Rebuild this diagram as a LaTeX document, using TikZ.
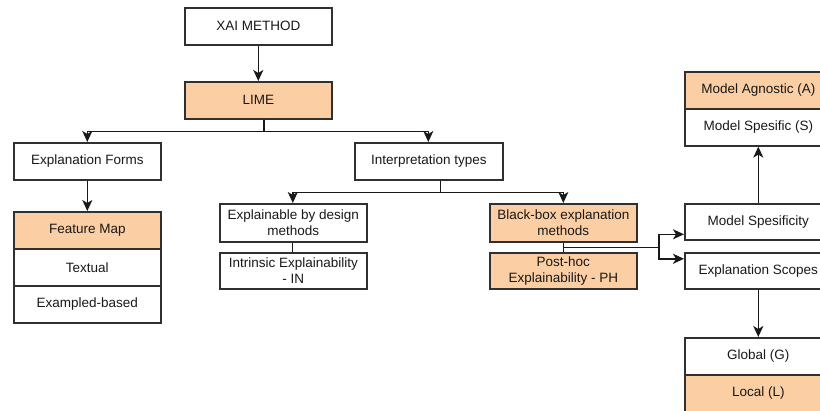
\documentclass[tikz,border=0pt]{standalone}
\usepackage{fontspec}
\setmainfont{Liberation Sans}
\usetikzlibrary{arrows.meta,calc}
\definecolor{peach}{RGB}{251,206,163}
\definecolor{ink}{RGB}{25,25,25}
\tikzset{
  box/.style={draw=ink!90, line width=1.6pt, minimum width=147pt, minimum height=37pt,
    inner sep=0pt, anchor=north west, align=center, font=\fontsize{13.5}{15.5}\selectfont, text=ink},
  hot/.style={box, fill=peach},
  link/.style={draw=ink, line width=1.6pt},
  arr/.style={link, -{Stealth[length=11pt,width=10pt,inset=3pt]}},
}
\begin{document}
\begin{tikzpicture}[x=1pt,y=-1pt]
\useasboundingbox (0,0) rectangle (820,410);
\clip (0,0) rectangle (820,410);
\fill[white] (0,0) rectangle (820,410);

% top of the tree
\node[box] (xai) at (184,7) {XAI METHOD};
\node[hot] (lime) at (184,81) {LIME};

% first level
\node[box] (ef) at (13,142) {Explanation Forms};
\node[box, minimum width=148pt] (it) at (354,142) {Interpretation types};

% explanation forms stack
\node[hot] (fm) at (13,211) {Feature Map};
\node[box] (tx) at (13,248) {Textual};
\node[box] (ex) at (13,285) {Exampled-based};

% interpretation types
\node[box, minimum height=38pt] (ebd) at (219,203) {Explainable by design\\methods};
\node[box, minimum height=36pt] (intr) at (219,252) {Intrinsic Explainability\\- IN};
\node[hot, minimum height=38pt] (bb) at (489,203) {Black-box explanation\\methods};
\node[hot, minimum height=36pt] (ph) at (489,252) {Post-hoc\\Explainability - PH};

% right-hand column
\node[hot] (ma) at (684,71) {Model Agnostic (A)};
\node[box] (msp) at (684,108) {Model Spesific (S)};
\node[box, minimum height=36pt] (ms) at (684,203) {Model Spesificity};
\node[box, minimum height=36pt] (es) at (684,252) {Explanation Scopes};
\node[box] (gl) at (684,337) {Global (G)};
\node[hot] (lo) at (684,374) {Local (L)};

% connectors
\draw[arr] (xai) -- (lime);
\coordinate (limeout) at ([xshift=5.5pt]lime.south);
\draw[arr] (limeout) -- ++(0,12) -| (ef.north);
\draw[arr] (limeout) -- ++(0,12) -| ([xshift=-0.5pt]it.north);
\draw[arr] (ef) -- (fm);

\coordinate (itout) at ([xshift=11.5pt]it.south);
\draw[arr] (itout) -- ++(0,12) -| ([xshift=-0.5pt]ebd.north);
\draw[arr] (itout) -- ++(0,12) -| (bb.north);

\draw[link] ([xshift=-1pt]ebd.south) -- ([xshift=-1pt]intr.north);
\draw[link] (bb.south) -- (ph.north);

\coordinate (tap) at ($(bb.south)!0.5!(ph.north)$);
\coordinate (split) at (659,0);
\draw[link] (tap) -- (tap -| split);
\draw[arr] (tap -| split) |- ([yshift=-12.5pt]ms.west);
\draw[arr] (tap -| split) |- ([yshift=12pt]es.west);

\draw[arr] (ms) -- (msp);
\draw[arr] (es) -- (gl);
\end{tikzpicture}
\end{document}
